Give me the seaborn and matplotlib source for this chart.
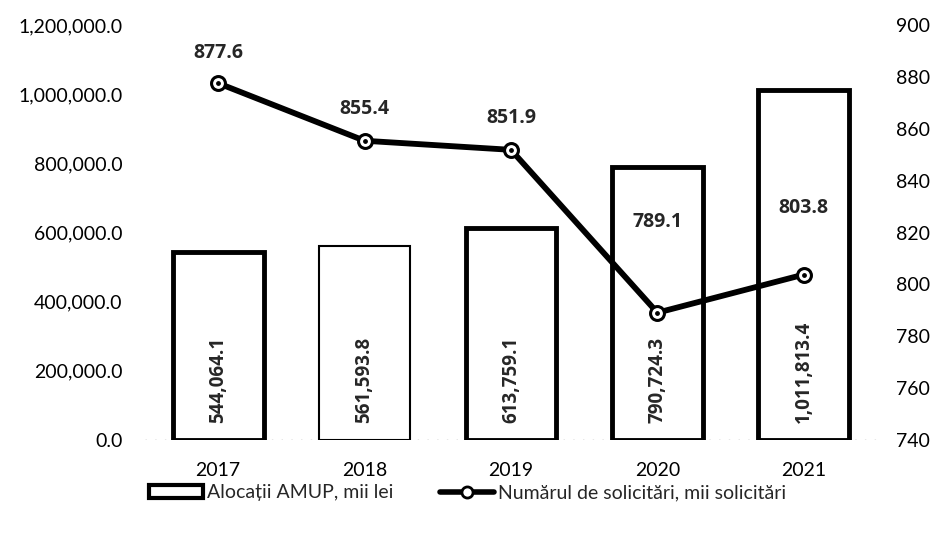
import matplotlib
matplotlib.use("Agg")
import matplotlib.pyplot as plt
import seaborn as sns
import pandas as pd
from matplotlib.lines import Line2D
from matplotlib.patches import Patch

years = ["2017", "2018", "2019", "2020", "2021"]
alocatii = [544064.1, 561593.8, 613759.1, 790724.3, 1011813.4]
solicitari = [877.6, 855.4, 851.9, 789.1, 803.8]
bar_label_text = ["544,064.1", "561,593.8", "613,759.1", "790,724.3", "1,011,813.4"]
line_label_text = ["877.6", "855.4", "851.9", "789.1", "803.8"]
line_label_offsets = [22, 23, 23, 65, 48]  # points

sns.set_theme(style="white")
plt.rcParams["font.family"] = ["Lato", "DejaVu Sans"]
FS = 14
BOLD_FONT = ["Open Sans", "DejaVu Sans"]

df = pd.DataFrame({"year": years, "alocatii": alocatii, "solicitari": solicitari})

fig = plt.figure(figsize=(9.35, 5.34), dpi=100)
ax = fig.add_axes([0.155, 0.176, 0.783, 0.777])

sns.barplot(data=df, x="year", y="alocatii", color="white", edgecolor="black",
            linewidth=3.5, width=0.62, saturation=1, ax=ax, zorder=2)
for i, p in enumerate(ax.patches):
    p.set_facecolor("white")
    if i == 1:
        p.set_linewidth(1.5)
ax.set_ylim(0, 1200000)
ax.set_xlim(-0.5, 4.5)
ax.set_yticks([0, 200000, 400000, 600000, 800000, 1000000, 1200000])
ax.set_yticklabels([f"{v:,.1f}" for v in ax.get_yticks()])
ax.set_xlabel("")
ax.set_ylabel("")
for s in ax.spines.values():
    s.set_visible(False)
ax.axhline(0, color="#888888", linestyle=(0, (1, 6)), linewidth=1, zorder=1)
ax.tick_params(axis="y", length=0, pad=16, labelsize=FS, labelcolor="black")
ax.tick_params(axis="x", length=0, pad=16, labelsize=FS, labelcolor="black")

for i, t in enumerate(bar_label_text):
    ax.annotate(t, xy=(i, 0), xytext=(0, 12), textcoords="offset points",
                rotation=90, ha="center", va="bottom", fontsize=13.5,
                fontweight="bold", family=BOLD_FONT, zorder=5)

ax2 = ax.twinx()
sns.lineplot(data=df, x="year", y="solicitari", color="black", linewidth=4.2,
             marker="o", markersize=10, markerfacecolor="white",
             markeredgecolor="black", markeredgewidth=2.2, ax=ax2, zorder=4)
ax2.scatter(range(len(years)), solicitari, s=6, color="black", zorder=6)
ax2.set_ylim(740, 900)
ax2.set_yticks(range(740, 901, 20))
ax2.set_ylabel("")
ax2.set_xlabel("")
for s in ax2.spines.values():
    s.set_visible(False)
ax2.tick_params(axis="y", length=0, pad=14, labelsize=FS, labelcolor="black")

for i, t in enumerate(line_label_text):
    ax2.annotate(t, xy=(i, solicitari[i]), xytext=(0, line_label_offsets[i]),
                 textcoords="offset points", ha="center", va="center",
                 fontsize=14, fontweight="bold", family=BOLD_FONT)

handles = [
    Patch(facecolor="white", edgecolor="black", linewidth=3),
    Line2D([0], [0], color="black", linewidth=4, marker="o", markersize=8,
           markerfacecolor="white", markeredgecolor="black", markeredgewidth=2),
]
labels = ["Alocații AMUP, mii lei", "Numărul de solicitări, mii solicitări"]
fig.legend(handles, labels, loc="center", bbox_to_anchor=(0.5, 0.077), ncol=2,
           frameon=False, fontsize=FS, handlelength=2.8, handletextpad=0.2,
           columnspacing=2.4)

fig.savefig("out.png", dpi=100)
